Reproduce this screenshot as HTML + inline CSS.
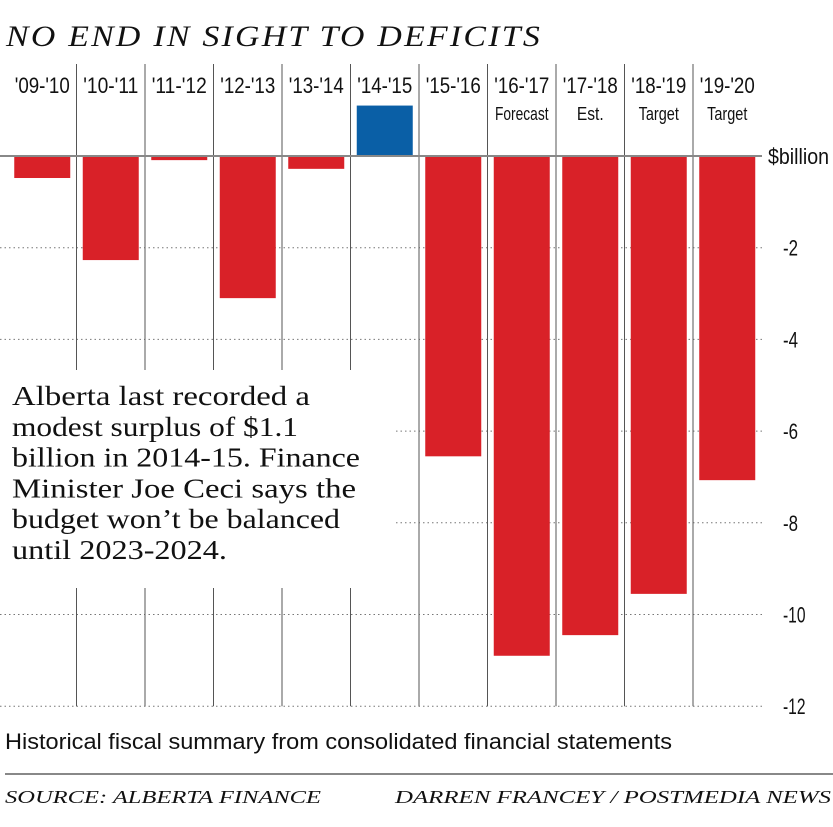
<!DOCTYPE html>
<html><head><meta charset="utf-8"><style>
body{margin:0;background:#fff;width:833px;height:827px;overflow:hidden}
svg{display:block}
.lab{font-family:"Liberation Sans",sans-serif;font-size:22px;fill:#111}
.sub{font-family:"Liberation Sans",sans-serif;font-size:18px;fill:#111}
.tick{font-family:"Liberation Sans",sans-serif;font-size:22px;fill:#111}
.ser{font-family:"Liberation Serif",serif;font-style:italic;fill:#111}
.body{font-family:"Liberation Serif",serif;font-size:27px;fill:#111}
</style></head><body>
<svg id="c" width="833" height="827"></svg>
<script>
const categories=["'09-'10","'10-'11","'11-'12","'12-'13","'13-'14","'14-'15","'15-'16","'16-'17","'17-'18","'18-'19","'19-'20"];
const sublabels=["","","","","","","","Forecast","Est.","Target","Target"];
const values=[-0.48,-2.27,-0.09,-3.1,-0.28,1.1,-6.55,-10.9,-10.45,-9.55,-7.07];
const ticks=[-2,-4,-6,-8,-10,-12];
const NS="http://www.w3.org/2000/svg";
const svg=document.getElementById('c');
const x0=8,colW=68.5,barW=56;
const y=v=>156-v*45.85;
const cx=i=>x0+colW*i+colW/2;
function mk(t,a,p){const e=document.createElementNS(NS,t);for(const k in a)e.setAttribute(k,a[k]);(p||svg).appendChild(e);return e;}
let t=mk('text',{x:6,y:46,class:'ser','font-size':'30','letter-spacing':'2',textLength:536,lengthAdjust:'spacingAndGlyphs'});t.textContent='NO END IN SIGHT TO DEFICITS';


ticks.forEach(v=>{
 const l=mk('line',{x1:0,x2:762,y1:y(v),y2:y(v),stroke:'#777','stroke-width':1,'stroke-dasharray':'1.5 3'});
 
 
 const s=String(v);
 const tx=mk('text',{x:783,y:y(v)+8,class:'tick',textLength:s.length*7.5,lengthAdjust:'spacingAndGlyphs'});tx.textContent=s;
 
 
});
for(let i=1;i<categories.length;i++){
 const x=x0+colW*i;
 const l=mk('line',{x1:x,x2:x,y1:64,y2:y(-12),stroke:'#555','stroke-width':1});
 
 
}
values.forEach((v,i)=>{
 const top=Math.min(y(v),y(0)),h=Math.abs(y(v)-y(0));
 const r=mk('rect',{x:cx(i)-barW/2,y:top,width:barW,height:h,fill:v>=0?'#0a5fa6':'#d92128'});
 
 
 const lt=mk('text',{x:cx(i),y:93,class:'lab','text-anchor':'middle',textLength:55,lengthAdjust:'spacingAndGlyphs'});lt.textContent=categories[i];
 
 
 if(sublabels[i]){const s=mk('text',{x:cx(i),y:120,class:'sub','text-anchor':'middle',textLength:sublabels[i].length*6.7,lengthAdjust:'spacingAndGlyphs'});s.textContent=sublabels[i];
 
 }
});
const z=mk('line',{x1:0,x2:762,y1:y(0),y2:y(0),stroke:'#888','stroke-width':2});


const ub=mk('text',{x:768,y:y(0)+8,class:'tick',textLength:61,lengthAdjust:'spacingAndGlyphs'});ub.textContent='$billion';


const bx=mk('rect',{x:0,y:370,width:393,height:218,fill:'#fff'});


const lines=["Alberta last recorded a","modest surplus of $1.1","billion in 2014-15. Finance","Minister Joe Ceci says the","budget won\u2019t be balanced","until 2023-2024."];
const lens=[298,286,348,344,328,215];
lines.forEach((s,i)=>{
 const a=mk('text',{x:12,y:405+i*30.8,class:'body',textLength:lens[i],lengthAdjust:'spacingAndGlyphs'});a.textContent=s;
 
 
});
const n=mk('text',{x:5,y:749,class:'tick','font-size':'24',textLength:667,lengthAdjust:'spacingAndGlyphs'});n.textContent='Historical fiscal summary from consolidated financial statements';


const sl=mk('line',{x1:5,x2:833,y1:774,y2:774,stroke:'#888','stroke-width':2});


const src=mk('text',{x:5,y:803,class:'ser','font-size':'18',textLength:316,lengthAdjust:'spacingAndGlyphs'});src.textContent='SOURCE: ALBERTA FINANCE';


const au=mk('text',{x:395,y:803,class:'ser','font-size':'18',textLength:436,lengthAdjust:'spacingAndGlyphs'});au.textContent='DARREN FRANCEY / POSTMEDIA NEWS';


</script>
</body></html>
